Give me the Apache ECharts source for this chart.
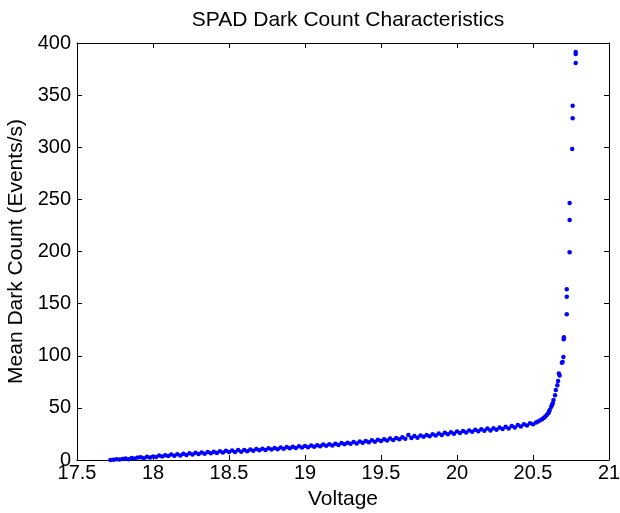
<!DOCTYPE html>
<html>
<head>
<meta charset="utf-8">
<script src="https://cdn.jsdelivr.net/npm/echarts@6/dist/echarts.min.js"></script>
<style>html,body{margin:0;padding:0;background:#fff;}#c{width:620px;height:513px;}</style>
</head>
<body>
<div id="c"></div>
<script>
var voltage = [
17.72,17.74,17.76,17.78,17.80,17.82,17.84,17.86,17.88,17.90,
17.92,17.94,17.96,17.98,18.00,18.02,18.04,18.06,18.08,18.10,
18.12,18.14,18.16,18.18,18.20,18.22,18.24,18.26,18.28,18.30,
18.32,18.34,18.36,18.38,18.40,18.42,18.44,18.46,18.48,18.50,
18.52,18.54,18.56,18.58,18.60,18.62,18.64,18.66,18.68,18.70,
18.72,18.74,18.76,18.78,18.80,18.82,18.84,18.86,18.88,18.90,
18.92,18.94,18.96,18.98,19.00,19.02,19.04,19.06,19.08,19.10,
19.12,19.14,19.16,19.18,19.20,19.22,19.24,19.26,19.28,19.30,
19.32,19.34,19.36,19.38,19.40,19.42,19.44,19.46,19.48,19.50,
19.52,19.54,19.56,19.58,19.60,19.62,19.64,19.66,19.68,19.70,
19.72,19.74,19.76,19.78,19.80,19.82,19.84,19.86,19.88,19.90,
19.92,19.94,19.96,19.98,20.00,20.02,20.04,20.06,20.08,20.10,
20.12,20.14,20.16,20.18,20.20,20.22,20.24,20.26,20.28,20.30,
20.32,20.34,20.36,20.38,20.40,20.42,20.44,20.46,20.48,20.50,
20.52,20.53,20.545,20.56,20.57,20.58,20.59,20.60,20.605,20.61,
20.62,20.625,20.63,20.635,20.645,20.65,20.66,20.665,20.675,20.67,
20.69,20.695,20.70,20.702,20.703,20.722,20.722,20.722,20.741,20.741,
20.741,20.758,20.761,20.761,20.781,20.781,20.781
];
var darkCount = [
0.0,0.3,0.6,0.4,1.0,1.4,0.8,1.8,1.4,2.4,
2.6,1.7,3.1,2.4,3.4,2.8,4.3,3.3,4.6,3.8,
5.2,4.0,5.5,4.3,5.9,4.9,6.5,5.3,6.9,5.7,
7.3,5.9,7.6,6.4,8.0,6.8,8.4,7.2,8.8,7.6,
9.0,7.7,9.5,8.0,9.6,8.4,10.0,8.9,10.5,9.3,
10.9,9.5,11.2,10.0,11.6,10.4,12.0,10.8,12.4,11.2,
12.8,11.4,13.1,11.9,13.5,12.3,13.9,12.6,14.2,13.2,
14.8,13.6,15.1,13.9,15.7,14.5,16.2,15.0,16.5,15.5,
17.2,15.9,17.7,16.6,18.3,17.0,18.9,17.5,19.4,18.3,
20.0,18.7,20.6,19.3,21.2,19.9,21.8,20.5,24.0,21.1,
23.0,21.3,23.5,22.2,24.1,22.8,24.7,23.4,25.3,24.0,
26.1,24.6,26.6,25.1,27.4,25.9,27.8,26.4,28.3,27.0,
28.9,27.5,29.4,28.0,30.1,28.4,30.5,29.1,31.2,29.7,
31.9,30.3,32.6,31.2,33.6,32.1,34.4,33.0,35.3,34.2,
36.0,36.7,38.0,39.0,40.3,41.5,43.2,44.8,46.3,48.0,
51.1,52.8,54.4,57.5,62.0,67.1,71.6,75.8,81.0,83.0,
93.3,94.0,98.8,115.8,117.7,139.7,156.7,163.7,199.2,230.2,
246.5,298.3,327.8,339.9,380.8,389.5,391.4
];
var xTicks = {min: 17.5, max: 21, interval: 0.5};
var yTicks = {min: 0, max: 400, interval: 50};

var points = voltage.map(function (v, i) { return [v, darkCount[i]]; });
var font = 'Liberation Sans, Arial, Helvetica, sans-serif';
var lineStyle = {color: '#000', width: 1};

var chart = echarts.init(document.getElementById('c'), null, {renderer: 'canvas'});
chart.setOption({
  animation: false,
  backgroundColor: '#fff',
  title: {
    text: 'SPAD Dark Count Characteristics',
    left: 343,
    top: 5,
    textAlign: 'center',
    textStyle: {fontFamily: font, fontSize: 21, fontWeight: 'normal', color: '#000'}
  },
  grid: {left: 77, right: 11, top: 43, bottom: 53, containLabel: false, outerBoundsMode: 'none'},
  xAxis: [{
    type: 'value', position: 'bottom',
    min: xTicks.min, max: xTicks.max, interval: xTicks.interval,
    name: 'Voltage', nameLocation: 'middle', nameGap: 29,
    nameTextStyle: {fontFamily: font, fontSize: 21, color: '#000'},
    axisLine: {show: true, onZero: false, lineStyle: lineStyle},
    axisTick: {show: true, inside: true, length: 5, lineStyle: lineStyle},
    axisLabel: {fontFamily: font, fontSize: 20, color: '#000', margin: 3},
    splitLine: {show: false}
  }, {
    type: 'value', position: 'top',
    min: xTicks.min, max: xTicks.max, interval: xTicks.interval,
    axisLine: {show: true, onZero: false, lineStyle: lineStyle},
    axisTick: {show: true, inside: true, length: 5, lineStyle: lineStyle},
    axisLabel: {show: false},
    splitLine: {show: false}
  }],
  yAxis: [{
    type: 'value', position: 'left',
    min: yTicks.min, max: yTicks.max, interval: yTicks.interval,
    name: 'Mean Dark Count (Events/s)', nameLocation: 'middle', nameGap: 46,
    nameTextStyle: {fontFamily: font, fontSize: 21, color: '#000'},
    axisLine: {show: true, onZero: false, lineStyle: lineStyle},
    axisTick: {show: true, inside: true, length: 5, lineStyle: lineStyle},
    axisLabel: {fontFamily: font, fontSize: 20, color: '#000', margin: 6},
    splitLine: {show: false}
  }, {
    type: 'value', position: 'right',
    min: yTicks.min, max: yTicks.max, interval: yTicks.interval,
    axisLine: {show: true, onZero: false, lineStyle: lineStyle},
    axisTick: {show: true, inside: true, length: 5, lineStyle: lineStyle},
    axisLabel: {show: false},
    splitLine: {show: false}
  }],
  series: [{
    type: 'scatter',
    xAxisIndex: 0, yAxisIndex: 0,
    data: points,
    symbol: 'circle',
    symbolSize: 4.5,
    itemStyle: {color: '#0000ff', opacity: 1},
    silent: true
  }]
});
</script>
</body>
</html>
